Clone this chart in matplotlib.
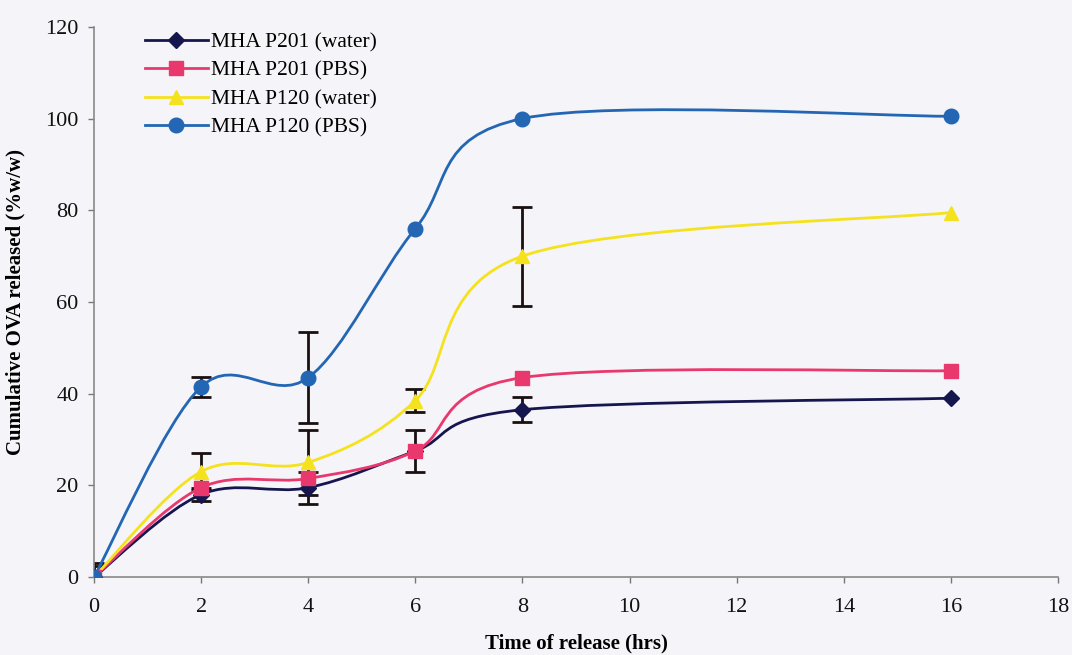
import numpy as np
import matplotlib
matplotlib.use("Agg")
import matplotlib.pyplot as plt
from matplotlib.path import Path
from matplotlib.patches import PathPatch
from matplotlib.lines import Line2D

# release time (hrs)
time = [0, 2, 4, 6, 8, 16]

labels = ["MHA P201 (water)", "MHA P201 (PBS)", "MHA P120 (water)", "MHA P120 (PBS)"]

# cumulative OVA released (%w/w)
p201_water = [0, 18.0, 19.5, 27.5, 36.5, 39.0]
p201_pbs = [0, 19.5, 21.5, 27.5, 43.5, 45.0]
p120_water = [0, 23.0, 25.0, 38.5, 70.0, 79.5]
p120_pbs = [0, 41.5, 43.5, 76.0, 100.0, 100.5]

# standard deviations (0 = no visible bar)
p201_water_err = [2.5, 1.5, 3.5, 0, 2.7, 0]
p201_pbs_err = [0, 0, 0, 4.5, 0, 0]
p120_water_err = [0, 4.0, 7.0, 2.5, 10.8, 0]
p120_pbs_err = [3.0, 2.2, 10.0, 0, 0, 0]

series = [p201_water, p201_pbs, p120_water, p120_pbs]
errors = [p201_water_err, p201_pbs_err, p120_water_err, p120_pbs_err]
colors = ["#16164f", "#e8386e", "#f5e21e", "#2266b4"]
markers = ["D", "s", "^", "o"]
msizes = [8, 9.5, 10, 10.5]

plt.rcParams["font.family"] = ["Liberation Serif", "DejaVu Serif"]

fig = plt.figure(figsize=(10.72, 6.55), dpi=100)
bg = "#f5f4f8"
fig.patch.set_facecolor(bg)
ax = fig.add_axes([0.0877, 0.119, 0.8993, 0.840])
ax.set_facecolor(bg)


def smooth_path(x, y):
    # Excel-like smoothed line: cubic Bezier segments through every point
    pts = np.column_stack([x, y]).astype(float)
    n = len(pts)
    verts = [pts[0]]
    codes = [Path.MOVETO]
    for i in range(n - 1):
        p0 = pts[i - 1] if i > 0 else pts[i]
        p1 = pts[i]
        p2 = pts[i + 1]
        p3 = pts[i + 2] if i + 2 < n else pts[i + 1]
        c1 = p1 + (p2 - p0) / 6.0
        c2 = p2 - (p3 - p1) / 6.0
        verts += [c1, c2, p2]
        codes += [Path.CURVE4] * 3
    return Path(verts, codes)


handles = []
for vals, err, c, m, ms, lab in zip(series, errors, colors, markers, msizes, labels):
    idx = [i for i, e in enumerate(err) if e > 0]
    ax.errorbar([time[i] for i in idx], [vals[i] for i in idx],
                yerr=[err[i] for i in idx], fmt="none", ecolor="#1a1010",
                elinewidth=2, capsize=7, capthick=2, zorder=2)
    ax.add_patch(PathPatch(smooth_path(time, vals), facecolor="none",
                           edgecolor=c, lw=2, zorder=3))
    ax.plot(time, vals, linestyle="none", marker=m, markersize=ms,
            color=c, markeredgecolor=c, zorder=4)
    handles.append(Line2D([], [], color=c, lw=2, marker=m, markersize=ms, label=lab))

ax.set_xlim(0, 18)
ax.set_ylim(0, 120)
ax.set_xticks(range(0, 19, 2))
ax.set_yticks(range(0, 121, 20))
ax.tick_params(labelsize=16, colors="#777777", labelcolor="#111111",
               length=4, width=1)
ax.tick_params(axis="x", pad=11)
ax.tick_params(axis="y", pad=7)
for s in ["top", "right"]:
    ax.spines[s].set_visible(False)
for s in ["left", "bottom"]:
    ax.spines[s].set_color("#888888")
    ax.spines[s].set_linewidth(1.2)

ax.set_xlabel("Time of release (hrs)", fontsize=15, fontweight="bold", labelpad=12)
ax.set_ylabel("Cumulative OVA released (%w/w)", fontsize=15, fontweight="bold", labelpad=14)

ax.legend(handles=handles, loc="upper left", bbox_to_anchor=(0.033, 1.025),
          frameon=False, fontsize=15.5, handlelength=2.9, handletextpad=0.15,
          labelspacing=0.38)

fig.savefig("out.png", dpi=100, facecolor=bg)
